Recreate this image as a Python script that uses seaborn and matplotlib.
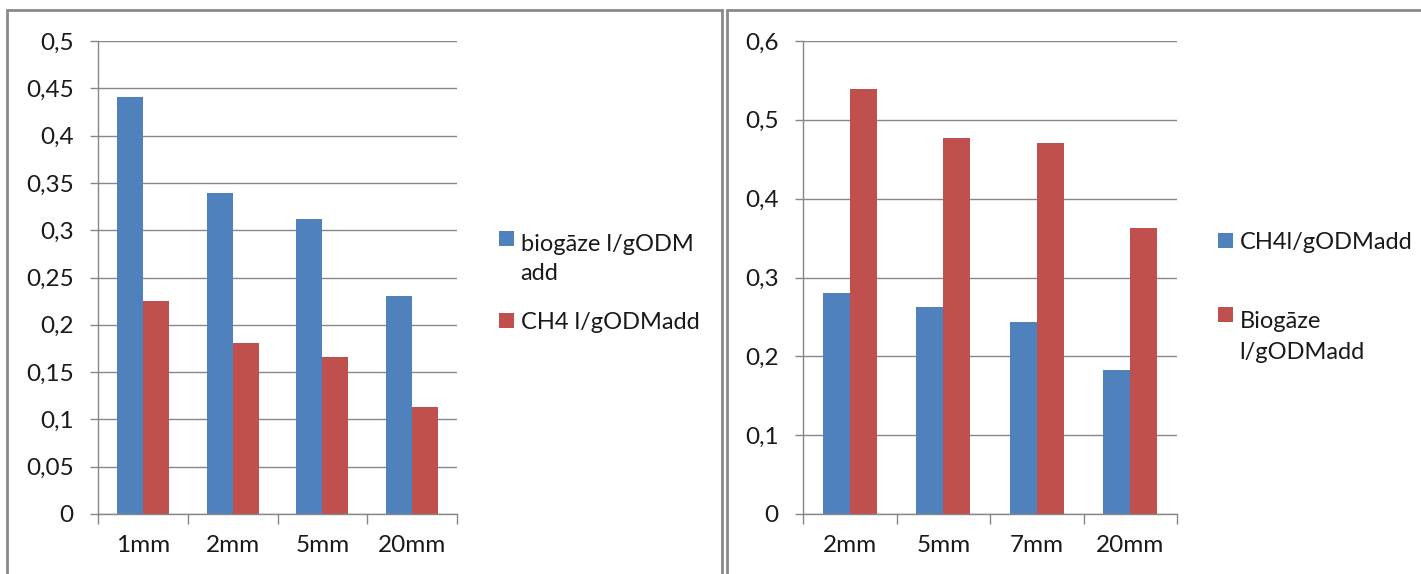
import matplotlib
matplotlib.use("Agg")
import matplotlib.pyplot as plt
import seaborn as sns
import pandas as pd
from matplotlib.ticker import FuncFormatter, FixedLocator
from matplotlib.patches import Rectangle

# ---- data ----
left_categories = ["1mm", "2mm", "5mm", "20mm"]
left_biogas = [0.441, 0.339, 0.312, 0.230]
left_ch4 = [0.225, 0.181, 0.166, 0.113]
left_series = ["biogāze l/gODM\nadd", "CH4 l/gODMadd"]
left_yticks = [0, 0.05, 0.1, 0.15, 0.2, 0.25, 0.3, 0.35, 0.4, 0.45, 0.5]

right_categories = ["2mm", "5mm", "7mm", "20mm"]
right_ch4 = [0.280, 0.263, 0.244, 0.183]
right_biogas = [0.539, 0.477, 0.470, 0.363]
right_series = ["CH4l/gODMadd", "Biogāze\nl/gODMadd"]
right_yticks = [0, 0.1, 0.2, 0.3, 0.4, 0.5, 0.6]

BLUE = "#4F81BD"
RED = "#C0504D"
GRID = "#878787"
TXT = "#1a1a1a"
FS = 17.5
LFS = 17

sns.set_theme(style="white")
plt.rcParams["font.family"] = ["Lato", "DejaVu Sans"]

W, H = 1421, 574
fig = plt.figure(figsize=(W / 100, H / 100), dpi=100)


def fx(px):
    return px / W


def fy(py):
    return 1 - py / H


def comma_fmt(v, pos):
    return ("%g" % round(v, 4)).replace(".", ",")


def draw_panel(rect, cats, s1, s2, names, yticks, ymax, leg_anchor,
               leg_spacing, ls):
    x0, y0, x1, y1 = rect  # pixel coords (left, top, right, bottom)
    ax = fig.add_axes([fx(x0), fy(y1), fx(x1 - x0), (y1 - y0) / H])
    df = pd.DataFrame({
        "cat": cats * 2,
        "val": list(s1) + list(s2),
        "series": [names[0]] * len(cats) + [names[1]] * len(cats),
    })
    sns.barplot(data=df, x="cat", y="val", hue="series", order=cats,
                hue_order=names, palette=[BLUE, RED], width=0.58,
                saturation=1, linewidth=0, ax=ax, legend=True)
    ax.set_ylim(0, ymax)
    ax.set_xlim(-0.5, len(cats) - 0.5)
    ax.yaxis.set_major_locator(FixedLocator(yticks))
    ax.yaxis.set_major_formatter(FuncFormatter(comma_fmt))
    ax.set_xlabel("")
    ax.set_ylabel("")
    ax.grid(axis="y", color=GRID, linewidth=1.0)
    ax.set_axisbelow(True)
    for sp in ["top", "right"]:
        ax.spines[sp].set_visible(False)
    for sp in ["left", "bottom"]:
        ax.spines[sp].set_color(GRID)
        ax.spines[sp].set_linewidth(1.0)
    ax.set_xticks([i - 0.5 for i in range(len(cats) + 1)], minor=False)
    ax.set_xticklabels([""] * (len(cats) + 1))
    ax.set_xticks(range(len(cats)), minor=True)
    ax.set_xticklabels(cats, minor=True)
    ax.tick_params(axis="x", which="major", direction="out", length=7.5,
                   color=GRID, width=1, bottom=True)
    ax.tick_params(axis="x", which="minor", length=0, pad=15, labelsize=FS,
                   labelcolor=TXT)
    ax.tick_params(axis="y", direction="out", length=5.5, color=GRID, width=1,
                   left=True, pad=12, labelsize=FS, labelcolor=TXT)
    handles, labels = ax.get_legend_handles_labels()
    leg = ax.legend(handles, names, loc="upper left",
                    bbox_to_anchor=(fx(leg_anchor[0]), fy(leg_anchor[1])),
                    bbox_transform=fig.transFigure, frameon=False,
                    fontsize=LFS, handlelength=0.62, handleheight=0.62,
                    handletextpad=0.3, labelspacing=leg_spacing,
                    borderaxespad=0, borderpad=0, labelcolor=TXT)
    for t in leg.get_texts():
        t.set_linespacing(ls)
    # put each square next to the first line of a multi-line label
    for patch, name in zip(leg.get_patches(), names):
        nlines = name.count("\n") + 1
        if nlines > 1:
            shift = 0.5 * (nlines - 1) * ls * 1.2 * LFS
            patch.set_y(patch.get_y() + shift)
    return ax


# panel borders
fig.add_artist(Rectangle((fx(7), fy(580)), fx(715), (580 - 10) / H,
                         transform=fig.transFigure, fill=False,
                         edgecolor="#8A8A8A", linewidth=2.0))
fig.add_artist(Rectangle((fx(727), fy(580)), fx(700), (580 - 10) / H,
                         transform=fig.transFigure, fill=False,
                         edgecolor="#8A8A8A", linewidth=2.0))

draw_panel((98, 41, 457, 514), left_categories, left_biogas, left_ch4,
           left_series, left_yticks, 0.5, (499, 234), 1.2, 1.45)
draw_panel((803, 41, 1177, 514), right_categories, right_ch4, right_biogas,
           right_series, right_yticks, 0.6, (1218, 232), 2.45, 1.6)

fig.savefig("out.png", dpi=100)
